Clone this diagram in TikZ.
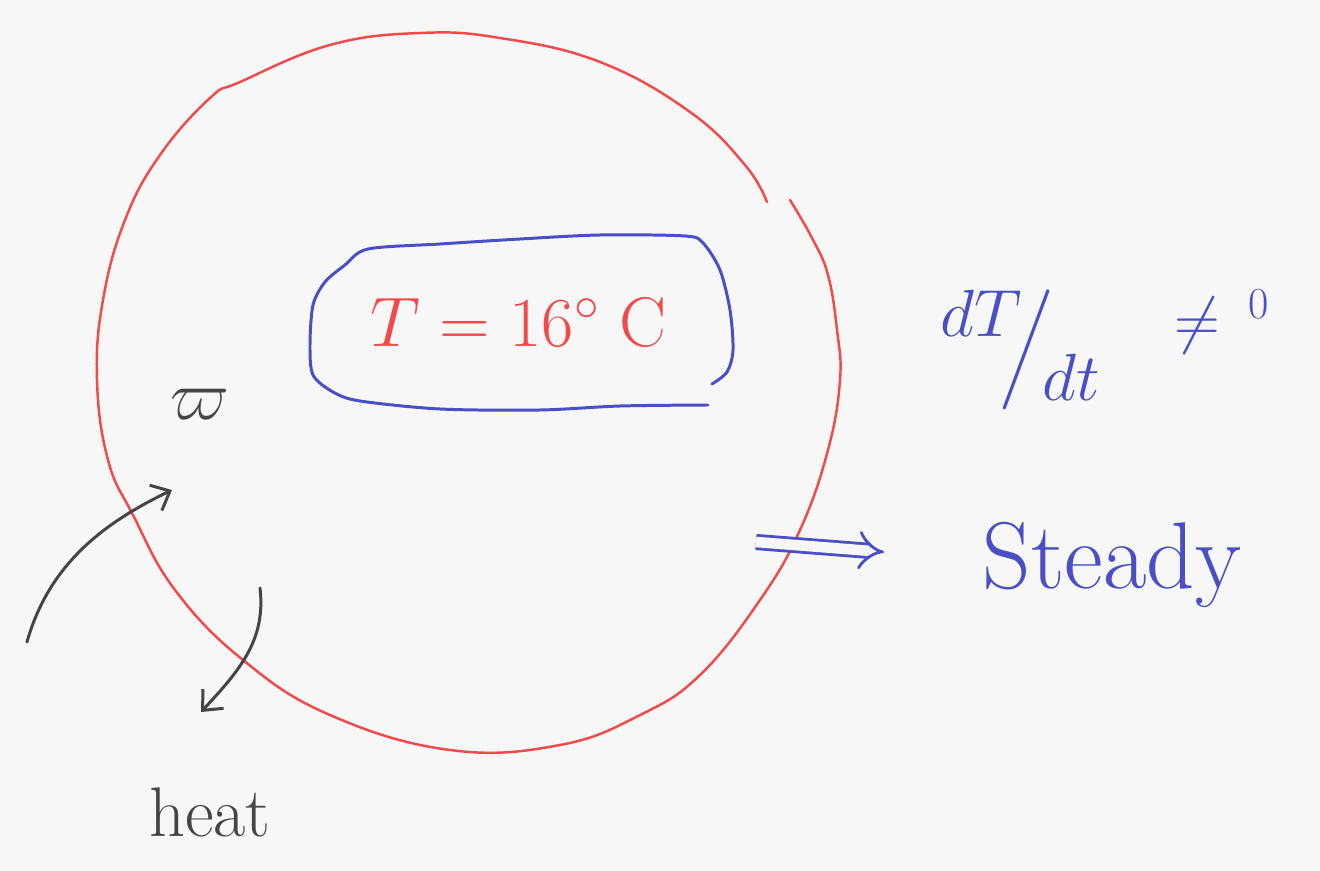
\RequirePackage{fix-cm}
\documentclass[tikz,border=0pt]{standalone}
\usepackage{tikz}
\usetikzlibrary{arrows.meta}
\usepackage{amsmath, amssymb}
\definecolor{sketchred}{HTML}{F24A4A}
\definecolor{sketchblue}{HTML}{4A4FC6}
\definecolor{sketchgray}{HTML}{454545}
\definecolor{paper}{HTML}{F7F7F7}

\begin{document}
\begin{tikzpicture}[
    x=0.02cm, y=-0.02cm,
    boundary/.style  = {draw=sketchred, line width=1.4pt, line cap=round, line join=round},
    hotbox/.style    = {draw=sketchblue, line width=1.7pt, line cap=round, line join=round},
    flow/.style      = {draw=sketchgray, line width=1.7pt, line cap=round,
                        -{Straight Barb[length=9pt, width=16pt, line width=1.7pt]}},
    implies/.style   = {draw=sketchblue, line width=1.6pt, double=paper, double distance=6pt,
                        -{Implies[length=6pt]}},
    redlbl/.style    = {text=sketchred, inner sep=0pt},
    bluelbl/.style   = {text=sketchblue, inner sep=0pt},
    graylbl/.style   = {text=sketchgray, inner sep=0pt},
]

%% ============================================================
%% CANVAS
%% ============================================================
\fill[paper] (0,0) rectangle (1320,871);
\useasboundingbox (0,0) rectangle (1320,871);

%% ============================================================
%% SYSTEM BOUNDARY (open at the top right)
%% ============================================================
\draw[boundary] plot[smooth, tension=0.7] coordinates {
    (767,202) (745,165) (690,112) (600,62) (500,38) (420,33) (330,45)
    (240,82) (210,98) (160,155) (125,220) (103,300) (97,380) (108,460)
    (133,515) (175,590) (243,660) (330,715) (450,750) (560,745)
    (640,715) (700,675) (760,600) (800,530) (828,450) (840,380) (837,330)
    (828,275) (812,238) (790,200)};

%% ============================================================
%% TEMPERATURE BOX
%% ============================================================
\draw[hotbox] plot[smooth, tension=0.5] coordinates {
    (712,384) (727,372) (733,350) (730,310) (720,270) (703,243) (685,236)
    (600,235) (520,239) (440,244) (368,249) (345,265) (325,282) (313,305)
    (310,345) (313,375) (333,392) (360,401) (440,409) (540,410) (620,406)
    (708,405)};

\node[redlbl] (temp) at (518,322)
    {\fontsize{40}{48}\selectfont $T = 16^{\circ}\;\mathrm{C}$};

%% ============================================================
%% FLOWS ACROSS THE BOUNDARY
%% ============================================================
\node[graylbl] (work) at (200,404) {\fontsize{40}{48}\selectfont $\varpi$};
\node[graylbl] (heat) at (210,812) {\fontsize{40}{48}\selectfont heat};

\coordinate (winTail)  at (27,642);
\coordinate (winHead)  at (172,490);
\coordinate (qTail)    at (260,588);
\coordinate (qHead)    at (201,712);

\draw[flow] (winTail) .. controls (50,560) and (110,520) .. (winHead);
\draw[flow] (qTail) .. controls (266,640) and (240,670) .. (qHead);

%% ============================================================
%% CONCLUSION
%% ============================================================
\node[bluelbl] (rate) at (1020,350)
    {\fontsize{38}{44}\selectfont
     $\raisebox{0.45em}{$dT$}\!\!\Big/\!\raisebox{-0.5em}{$dt$}$};
\node[bluelbl] (neq) at (1222,322)
    {\fontsize{36}{42}\selectfont $\neq\,{}^{0}$};

\coordinate (impTail) at (756,542);
\coordinate (impHead) at (884,552);
\draw[implies] (impTail) -- (impHead);

\node[bluelbl] (steady) at (1112,565) {\fontsize{54}{64}\selectfont Steady};

\end{tikzpicture}
\end{document}
